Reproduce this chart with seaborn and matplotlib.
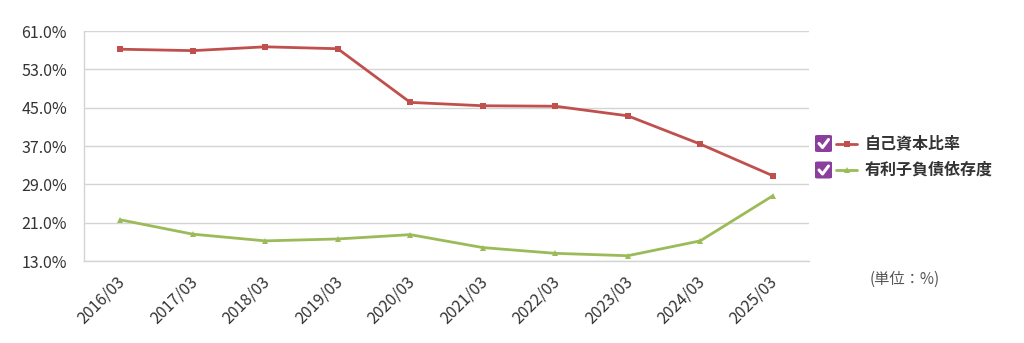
import matplotlib
matplotlib.use("Agg")
import matplotlib.pyplot as plt
import matplotlib.transforms as mtransforms
import seaborn as sns
import pandas as pd
import numpy as np
from matplotlib.patches import FancyBboxPatch
from matplotlib.lines import Line2D

categories = ["2016/03", "2017/03", "2018/03", "2019/03", "2020/03",
              "2021/03", "2022/03", "2023/03", "2024/03", "2025/03"]
equity_ratio = [57.2, 56.9, 57.7, 57.3, 46.1, 45.4, 45.3, 43.3, 37.4, 30.8]
debt_dependency = [21.6, 18.6, 17.2, 17.6, 18.5, 15.8, 14.6, 14.1, 17.2, 26.6]
series_names = ["自己資本比率", "有利子負債依存度"]
yticks = [13, 21, 29, 37, 45, 53, 61]
unit_label = "(単位：%)"

sns.set_theme(style="white")
plt.rcParams['font.family'] = ['Noto Sans CJK JP', 'DejaVu Sans']

red = "#c0504d"
green = "#9bbb59"
grid_c = "#d4d4d4"
text_c = "#333333"

df = pd.DataFrame({
    "x": list(range(len(categories))) * 2,
    "value": equity_ratio + debt_dependency,
    "series": [series_names[0]] * len(categories) + [series_names[1]] * len(categories),
})

fig = plt.figure(figsize=(10.24, 3.43), dpi=100)
ax = fig.add_axes([84/1024, 1-261/343, (809-84)/1024, (261-31)/343])

sns.lineplot(data=df, x="x", y="value", hue="series", style="series",
             palette=[red, green], markers=["s", "^"], dashes=False,
             linewidth=2.0, markersize=5, markeredgewidth=0, ax=ax, legend=False)

ax.set_xlim(-0.5, len(categories) - 0.5)
ax.set_ylim(13, 61)
ax.set_yticks(yticks)
ax.set_yticklabels([f"{v:.1f}%" for v in yticks], fontsize=11.5, color=text_c)
ax.yaxis.grid(True, color=grid_c, linewidth=1)
ax.set_axisbelow(True)
ax.tick_params(axis='y', length=4.3, color=grid_c, width=1, pad=8)

ax.set_xticks(range(len(categories)))
ax.set_xticklabels(categories, rotation=45, ha='right', va='top',
                   rotation_mode='anchor', fontsize=11.5, color=text_c)
ax.set_xticks(np.arange(-0.5, len(categories), 1.0), minor=True)
ax.tick_params(axis='x', which='major', length=0, pad=9)
ax.tick_params(axis='x', which='minor', length=5, color=grid_c, width=1)
offset = mtransforms.ScaledTranslation(-4/100, 0, fig.dpi_scale_trans)
for lbl in ax.get_xticklabels():
    lbl.set_transform(lbl.get_transform() + offset)
ax.set_xlabel("")
ax.set_ylabel("")

for s in ["top", "right"]:
    ax.spines[s].set_visible(False)
for s in ["left", "bottom"]:
    ax.spines[s].set_color(grid_c)
    ax.spines[s].set_linewidth(1)

# Legend with checkboxes
W, H = 1024, 343
def fx(px): return px / W
def fy(py): return 1 - py / H

for i, (name, col, mk) in enumerate(zip(series_names, [red, green], ["s", "^"])):
    yc = 143.5 + i * 26.5
    box = FancyBboxPatch((fx(815), fy(yc + 8.5)), 17/W, 17/H,
                         boxstyle="round,pad=0,rounding_size=0.003",
                         transform=fig.transFigure, facecolor="#8a3f9c",
                         edgecolor="none")
    fig.patches.append(box)
    fig.lines.append(Line2D([fx(819), fx(822.5), fx(828.5)],
                            [fy(yc), fy(yc + 4), fy(yc - 4)],
                            transform=fig.transFigure, color="white",
                            linewidth=2.2, solid_capstyle="round",
                            solid_joinstyle="round"))
    fig.lines.append(Line2D([fx(836), fx(857)], [fy(yc), fy(yc)], transform=fig.transFigure,
                            color=col, linewidth=2))
    fig.lines.append(Line2D([fx(846.5)], [fy(yc)], transform=fig.transFigure,
                            color=col, marker=mk, markersize=5, markeredgewidth=0,
                            linestyle="none"))
    fig.text(fx(865), fy(yc), name, fontsize=11.5, fontweight="bold", color=text_c,
             ha="left", va="center")

fig.text(fx(905), fy(279), unit_label, fontsize=11, color="#555555",
         ha="center", va="center")

fig.savefig("out.png", dpi=100, facecolor="white")
